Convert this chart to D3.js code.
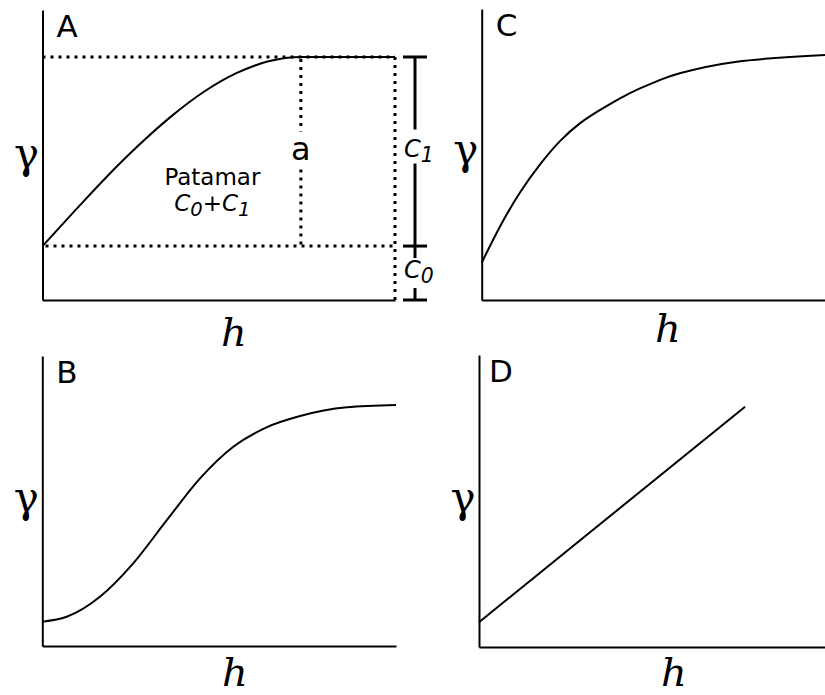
<!DOCTYPE html>
<html>
<head>
<meta charset="utf-8">
<script src="https://cdn.jsdelivr.net/npm/d3@7/dist/d3.min.js"></script>
<style>
    body { margin: 0; background: #fff; }
    svg { display: block; }
    .axis path { stroke: #000; stroke-width: 2; }
    .curve { stroke: #000; stroke-width: 2; fill: none; }
    .dots { stroke: #000; stroke-width: 3; stroke-dasharray: 3 5; fill: none; }
    .bracket { stroke: #000; stroke-width: 3; fill: none; }
    text { font-family: "DejaVu Sans", Verdana, sans-serif; fill: #000; }
    .gamma { font-family: "DejaVu Serif", serif; font-size: 42px; }
    .hlabel { font-family: "DejaVu Serif", serif; font-style: italic; font-size: 40px; }
    .panel-label { font-size: 31px; }
</style>
</head>
<body>
<div id="vis"></div>
<script>
// values, both axes scaled 0..100 in every panel
var hA = [0, 9.2, 18.3, 27.5, 36.6, 45.8, 55, 64.1, 73.3, 100];
var gA = [18.6, 30.8, 42.6, 53.6, 63.4, 71.8, 78.2, 82.3, 83.8, 83.8];
var nuggetA = 18.6, sillA = 83.8, rangeA = 73.3;

var hB = [0, 6.9, 16.3, 25.7, 35.2, 44.6, 54.0, 63.4, 72.9, 86.1, 100];
var gB = [8.4, 10.1, 17.0, 28.5, 43.4, 57.8, 68.7, 75.4, 79.3, 82.3, 83.1];

var hC = [0, 5.3, 11.2, 17.0, 22.8, 28.6, 34.5, 40.3, 46.1, 51.9, 57.7, 74.3, 100];
var gC = [12.8, 25.2, 37.0, 46.6, 54.6, 60.7, 65.3, 69.3, 72.7, 75.6, 77.9, 81.9, 84.2];

var hD = [0, 76.9];
var gD = [8.5, 82.3];

var panelNames = ['A', 'B', 'C', 'D'];

var width = 825, height = 695;

var svg = d3.select('#vis')
    .append('svg')
    .attr('width', width)
    .attr('height', height);

// pixel boxes of the four plots
var boxes = {
    A: {left: 42.5, right: 395, top: 10, bottom: 300, gy: 168, hx: 234, hy: 346},
    B: {left: 42.3, right: 396, top: 356, bottom: 646, gy: 512, hx: 235, hy: 686},
    C: {left: 481.7, right: 825, top: 9, bottom: 300, gy: 164, hx: 668, hy: 342},
    D: {left: 479, right: 825, top: 355, bottom: 647, gy: 512, hx: 674, hy: 686}
};

var series = {
    A: {h: hA, g: gA, curve: d3.curveMonotoneX},
    B: {h: hB, g: gB, curve: d3.curveMonotoneX},
    C: {h: hC, g: gC, curve: d3.curveNatural},
    D: {h: hD, g: gD, curve: d3.curveLinear}
};

var scales = {};

panelNames.forEach(function(name) {
    var b = boxes[name];
    var x = d3.scaleLinear().domain([0, 100]).range([b.left, b.right]);
    var y = d3.scaleLinear().domain([0, 100]).range([b.bottom, b.top]);
    scales[name] = {x: x, y: y};

    var g = svg.append('g');

    g.append('g')
        .attr('class', 'axis')
        .attr('transform', 'translate(0,' + b.bottom + ')')
        .call(d3.axisBottom(x).ticks(0).tickSizeOuter(0));

    g.append('g')
        .attr('class', 'axis')
        .attr('transform', 'translate(' + b.left + ',0)')
        .call(d3.axisLeft(y).ticks(0).tickSizeOuter(0));

    var s = series[name];
    var pts = s.h.map(function(d, i) { return [d, s.g[i]]; });

    var line = d3.line()
        .x(function(d) { return x(d[0]); })
        .y(function(d) { return y(d[1]); })
        .curve(s.curve);

    g.append('path')
        .datum(pts)
        .attr('class', 'curve')
        .attr('d', line);

    g.append('text')
        .attr('class', 'panel-label')
        .attr('x', b.left + (name == 'D' ? 10 : 14))
        .attr('y', b.top + 27)
        .text(name);

    g.append('text')
        .attr('class', 'gamma')
        .attr('x', b.left - 16)
        .attr('y', b.gy)
        .attr('text-anchor', 'middle')
        .text('γ');

    g.append('text')
        .attr('class', 'hlabel')
        .attr('x', b.hx)
        .attr('y', b.hy)
        .attr('text-anchor', 'middle')
        .text('h');
});

// annotations of panel A
var xA = scales.A.x, yA = scales.A.y;
var ann = svg.append('g');

ann.append('line').attr('class', 'dots')
    .attr('x1', xA(0)).attr('x2', xA(100))
    .attr('y1', yA(sillA)).attr('y2', yA(sillA));
ann.append('line').attr('class', 'dots')
    .attr('x1', xA(0) + 3).attr('x2', xA(100))
    .attr('y1', yA(nuggetA)).attr('y2', yA(nuggetA));
ann.append('line').attr('class', 'dots')
    .attr('x1', xA(100)).attr('x2', xA(100))
    .attr('y1', yA(sillA)).attr('y2', yA(0));

// range line with a gap for the "a"
var aMid = (yA(sillA) + yA(nuggetA)) / 2;
ann.append('line').attr('class', 'dots')
    .attr('x1', xA(rangeA)).attr('x2', xA(rangeA))
    .attr('y1', yA(sillA) + 2).attr('y2', aMid - 20);
ann.append('line').attr('class', 'dots')
    .attr('x1', xA(rangeA)).attr('x2', xA(rangeA))
    .attr('y1', aMid + 18).attr('y2', yA(nuggetA));
ann.append('text')
    .attr('x', xA(rangeA))
    .attr('y', aMid + 8)
    .attr('text-anchor', 'middle')
    .style('font-size', '32px')
    .text('a');

// bracket on the right: C1 and C0
var bx = xA(100) + 20;
var c1Mid = (yA(sillA) + yA(nuggetA)) / 2;
var c0Mid = (yA(nuggetA) + yA(0)) / 2;
ann.append('line').attr('class', 'bracket')
    .attr('x1', bx).attr('x2', bx).attr('y1', yA(sillA)).attr('y2', c1Mid - 22);
ann.append('line').attr('class', 'bracket')
    .attr('x1', bx).attr('x2', bx).attr('y1', c1Mid + 12).attr('y2', yA(nuggetA) + 12);
ann.append('line').attr('class', 'bracket')
    .attr('x1', bx).attr('x2', bx).attr('y1', c0Mid + 15).attr('y2', yA(0));
[sillA, nuggetA, 0].forEach(function(v) {
    ann.append('line').attr('class', 'bracket')
        .attr('x1', bx - 12).attr('x2', bx + 12)
        .attr('y1', yA(v)).attr('y2', yA(v));
});

function cLabel(sel, sub) {
    sel.append('tspan').style('font-style', 'italic').text('C');
    sel.append('tspan').style('font-style', 'italic').style('font-size', '0.85em')
        .attr('dy', 5).text(sub);
}

ann.append('text')
    .attr('x', bx - 11)
    .attr('y', c1Mid + 5)
    .style('font-size', '24px')
    .call(cLabel, '1');
ann.append('text')
    .attr('x', bx - 11)
    .attr('y', c0Mid + 5)
    .style('font-size', '24px')
    .call(cLabel, '0');

// sill label
var patamarX = xA(48.2);
ann.append('text')
    .attr('x', patamarX)
    .attr('y', 185)
    .attr('text-anchor', 'middle')
    .style('font-size', '23px')
    .text('Patamar');

var sillText = ann.append('text')
    .attr('x', patamarX)
    .attr('y', 211)
    .attr('text-anchor', 'middle')
    .style('font-size', '23px');
sillText.append('tspan').style('font-style', 'italic').text('C');
sillText.append('tspan').style('font-style', 'italic').style('font-size', '0.85em').attr('dy', 5).text('0');
sillText.append('tspan').attr('dy', -5).text('+');
sillText.append('tspan').style('font-style', 'italic').text('C');
sillText.append('tspan').style('font-style', 'italic').style('font-size', '0.85em').attr('dy', 5).text('1');
</script>
</body>
</html>
